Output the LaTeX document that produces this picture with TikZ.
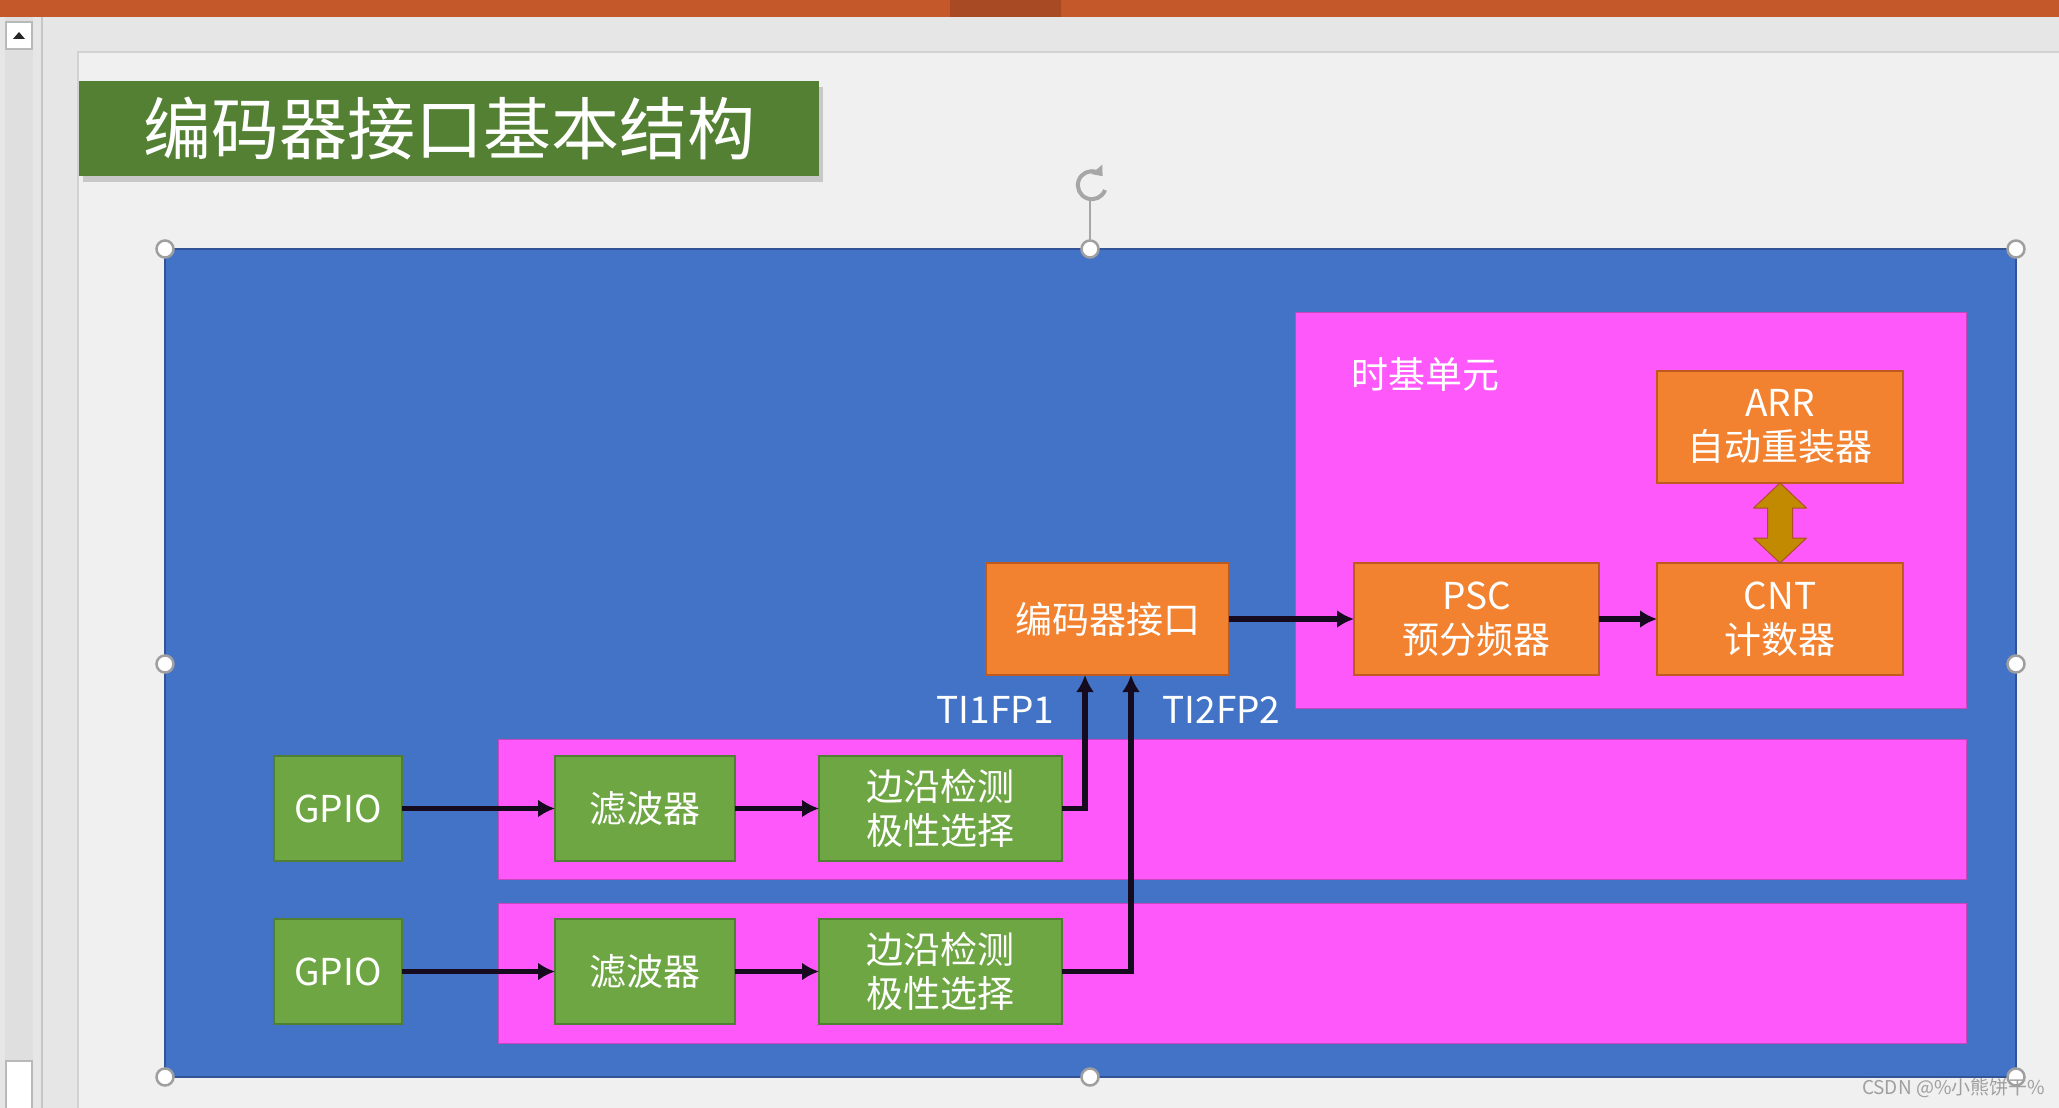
\documentclass[tikz,border=0pt]{standalone}
\usepackage{fontspec}
\setmainfont{Noto Sans CJK SC}
\usepackage{tikz}
\usetikzlibrary{positioning,arrows.meta,shadows}

\definecolor{workspace}{RGB}{230,230,230}
\definecolor{slidebg}{RGB}{240,240,240}
\definecolor{topbar}{RGB}{197,88,43}
\definecolor{slideblue}{RGB}{67,115,198}
\definecolor{blueedge}{RGB}{50,84,150}
\definecolor{pinkbg}{RGB}{255,88,250}
\definecolor{pinkedge}{RGB}{200,70,190}
\definecolor{boxgreen}{RGB}{110,166,68}
\definecolor{greenedge}{RGB}{80,126,50}
\definecolor{titlegreen}{RGB}{84,128,52}
\definecolor{boxorange}{RGB}{242,130,48}
\definecolor{orangeedge}{RGB}{190,90,30}
\definecolor{linkgold}{RGB}{193,138,0}
\definecolor{linkedge}{RGB}{170,80,40}
\definecolor{flowink}{RGB}{22,10,30}

\begin{document}
\begin{tikzpicture}[
		x=1pt, y=-1pt,
		every node/.style = {
			text=white,
			font=\fontsize{37}{44}\selectfont,
			inner sep=0pt, outer sep=0pt,
			align=center
		},
		greenbox/.style = {draw=greenedge, line width=1.2pt, fill=boxgreen, minimum height=105pt},
		orangebox/.style = {draw=orangeedge, line width=1.2pt, fill=boxorange, minimum height=112pt},
		flow/.style = {-{Latex[length=17pt,width=18pt]}, line width=5.5pt, flowink},
		handle/.style = {circle, draw=gray!75, fill=white, line width=2.5pt, minimum size=17pt}
		]
		\useasboundingbox (0,0) rectangle (2059,1108);
		\fill[workspace] (0,0) rectangle (2059,1108);
		\fill[topbar] (0,0) rectangle (2059,17);
		\fill[topbar!85!black] (950,0) rectangle (1061,17);
		\fill[gray!25] (5,17) rectangle (33,1108);
		\draw[gray!45, line width=1.5pt] (42,17) -- (42,1108);
		\node[draw=gray!55, fill=white, line width=1.2pt, minimum width=26pt, minimum height=27pt] (upbtn) at (19,35.5) {};
		\fill[gray!30!black] (13,39) -- (25,39) -- (19,32) -- cycle;
		\filldraw[fill=white, draw=gray!55, line width=1.2pt] (6,1061) rectangle (32,1115);
		\fill[slidebg] (78,52) rectangle (2059,1108);
		\draw[gray!35, line width=2pt] (78,1108) -- (78,52) -- (2059,52);

		\node[fill=titlegreen, minimum width=740pt, minimum height=95pt,
			font=\fontsize{68}{74}\selectfont,
			drop shadow={shadow xshift=4pt, shadow yshift=-6pt, opacity=.35}] (title) at (449,128.5) {编码器接口基本结构};

		\filldraw[fill=slideblue, draw=blueedge, line width=1.5pt] (165,249) rectangle (2016,1077);
		\filldraw[fill=pinkbg, draw=pinkedge, line width=1pt] (1295,312) rectangle (1966,708);
		\filldraw[fill=pinkbg, draw=pinkedge, line width=1pt] (498,739) rectangle (1966,879);
		\filldraw[fill=pinkbg, draw=pinkedge, line width=1pt] (498,903) rectangle (1966,1043);

		\node[anchor=west] (tblabel) at (1351,374) {时基单元};

		\node[greenbox, minimum width=128pt] (gpio1) at (338,808.5) {GPIO};
		\node[greenbox, minimum width=180pt, right=153pt of gpio1] (filt1) {滤波器};
		\node[greenbox, minimum width=243pt, right=84pt of filt1] (edge1) {边沿检测\\极性选择};
		\node[greenbox, minimum width=128pt, below=58pt of gpio1] (gpio2) {GPIO};
		\node[greenbox, minimum width=180pt, right=153pt of gpio2] (filt2) {滤波器};
		\node[greenbox, minimum width=243pt, right=84pt of filt2] (edge2) {边沿检测\\极性选择};

		\node[orangebox, minimum width=243pt] (enc) at (1107.5,619) {编码器接口};
		\node[orangebox, minimum width=245pt, right=125pt of enc] (psc) {PSC\\预分频器};
		\node[orangebox, minimum width=246pt, right=58pt of psc] (cnt) {CNT\\计数器};
		\node[orangebox, minimum width=246pt, above=80pt of cnt] (arr) {ARR\\自动重装器};

		\node[anchor=east] (ti1) at ([xshift=-53pt,yshift=-35pt]enc.south) {TI1FP1};
		\node[anchor=west] (ti2) at ([xshift=55pt,yshift=-35pt]enc.south) {TI2FP2};

		\draw[flow] (gpio1) -- (filt1);
		\draw[flow] (filt1) -- (edge1);
		\draw[flow] (gpio2) -- (filt2);
		\draw[flow] (filt2) -- (edge2);
		\draw[flow] (edge1.east) -| ([xshift=-22.5pt]enc.south);
		\draw[flow] (edge2.east) -| ([xshift=23.5pt]enc.south);
		\draw[flow] (enc) -- (psc);
		\draw[flow] (psc) -- (cnt);
		\filldraw[fill=linkgold, draw=linkedge, line width=1pt, line join=round]
			(arr.south) -- ++(26.5,25) -- ++(-14,0) -- ++(0,30) -- ++(14,0) -- (cnt.north)
			-- ++(-26.5,-25) -- ++(14,0) -- ++(0,-30) -- ++(-14,0) -- cycle;

		\foreach \hn/\hx/\hy in {a/165/249, b/1090/249, c/2016/249, d/165/664, e/2016/664, f/165/1077, g/1090/1077, h/2016/1077}
			\node[handle] (h\hn) at (\hx,\hy) {};
		\coordinate (rot) at (1090,201);
		\draw[gray!70, line width=1.5pt] (hb.north) -- (rot);
		\draw[gray!70, line width=4pt, -{Triangle[length=9pt,width=14pt]}] (1105,190) arc[start angle=20, end angle=320, radius=14];

		\node[anchor=east, text=gray!75, font=\fontsize{19}{22}\selectfont] (mark) at (2045,1088) {CSDN @\%小熊饼干\%};
	\end{tikzpicture}
\end{document}
